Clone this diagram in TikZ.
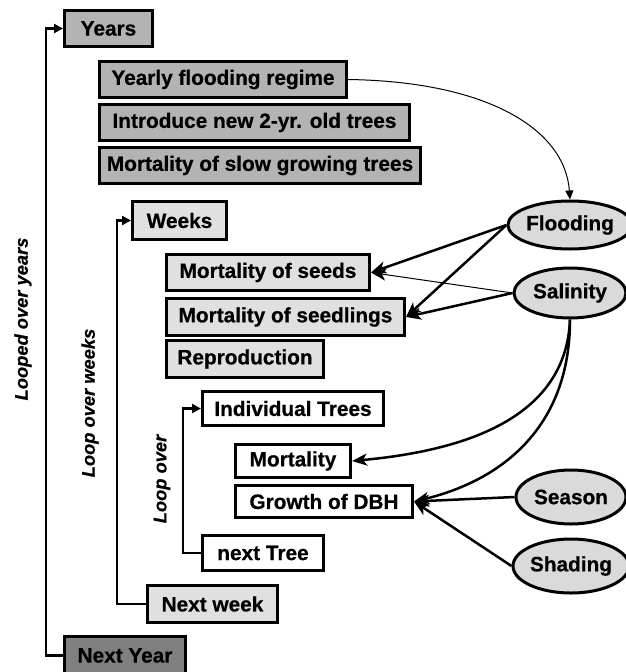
\documentclass[tikz,border=0pt]{standalone}
\usepackage{fontspec}
\setmainfont{Liberation Sans}[BoldFeatures={FakeBold=0.6},BoldItalicFeatures={FakeBold=0.6}]
\usetikzlibrary{arrows.meta,shapes.geometric}
\definecolor{gdark}{RGB}{128,128,128}
\definecolor{gmid}{RGB}{179,179,179}
\definecolor{glight}{RGB}{224,224,224}
\definecolor{gell}{RGB}{218,218,218}
\begin{document}
\begin{tikzpicture}[x=1pt,y=-1pt,
  box/.style={draw=black,line width=3pt,anchor=north west,inner sep=0pt,
    font=\fontsize{20.8}{24}\selectfont\bfseries,align=center},
  yearbox/.style={box,fill=gmid},
  weekbox/.style={box,fill=glight},
  treebox/.style={box,fill=white},
  factor/.style={ellipse,draw=black,line width=3pt,fill=gell,inner sep=0pt,
    font=\fontsize{20.8}{24}\selectfont\bfseries},
  looplabel/.style={rotate=90,font=\fontsize{18.3}{22}\selectfont\bfseries\itshape},
  loopline/.style={line width=2.5pt,-{Triangle[length=9pt,width=9pt]}},
  thickarrow/.style={line width=2.5pt,-{Stealth[length=15pt,width=12pt,inset=4pt]}},
  thinarrow/.style={line width=1pt,-{Stealth[length=15pt,width=12pt,inset=4pt]}},
  smallarrow/.style={line width=1pt,-{Triangle[length=9pt,width=8pt]}}
]
\useasboundingbox (0,0) rectangle (626,672);

% year level
\node[yearbox,minimum width=88,minimum height=36] (years) at (63,9) {Years};
\node[yearbox,minimum width=247,minimum height=36] (yfr) at (98,60) {Yearly flooding regime};
\node[yearbox,minimum width=310,minimum height=36] (intro) at (98,103) {Introduce new 2-yr. old trees};
\node[yearbox,minimum width=321,minimum height=36] (mslow) at (98,146) {Mortality of slow growing trees};
\node[box,fill=gdark,minimum width=121,minimum height=38] (nextyear) at (63,635) {Next Year};

% week level
\node[weekbox,minimum width=94,minimum height=38] (weeks) at (131,200) {Weeks};
\node[weekbox,minimum width=203,minimum height=36] (mseeds) at (165,253) {Mortality of seeds};
\node[weekbox,minimum width=238,minimum height=37] (mseedl) at (165,297) {Mortality of seedlings};
\node[weekbox,minimum width=157,minimum height=37] (repro) at (165,339) {Reproduction};
\node[weekbox,minimum width=130,minimum height=37] (nextweek) at (146,584) {Next week};

% tree level
\node[treebox,minimum width=181,minimum height=34] (indiv) at (201,390) {Individual Trees};
\node[treebox,minimum width=115,minimum height=33] (mort) at (234,443) {Mortality};
\node[treebox,minimum width=177,minimum height=32] (growth) at (234,484) {Growth of DBH};
\node[treebox,minimum width=121,minimum height=35] (nexttree) at (201,534) {next Tree};

% factors
\node[factor,minimum width=110,minimum height=48] (flood) at (570,225) {Flooding};
\node[factor,minimum width=112,minimum height=50] (sal) at (570,293) {Salinity};
\node[factor,minimum width=110,minimum height=54] (season) at (571,497) {Season};
\node[factor,minimum width=110,minimum height=54] (shade) at (571,566) {Shading};

% loop labels
\node[looplabel] (lyears) at (23,319) {Looped over years};
\node[looplabel] (lweeks) at (90,403) {Loop over weeks};
\node[looplabel] (ltrees) at (162,479) {Loop over};

% loop lines
\coordinate (xy) at (46,0);
\coordinate (xw) at (117,0);
\coordinate (xt) at (183,0);
\draw[loopline] (nextyear.west) -- (nextyear.west -| xy) |- (years.west);
\draw[loopline] (nextweek.west) -- (nextweek.west -| xw) |- (weeks.west);
\draw[loopline] (nexttree.west) -- (nexttree.west -| xt) |- (indiv.west);

% influences
\draw[smallarrow] (yfr.east) .. controls +(140,2) and +(-5,-70) .. (flood.north);
\draw[thinarrow] (sal.west) -- (mseeds.east);
\draw[thickarrow] (flood.west) -- (mseeds.east);
\draw[thickarrow] (flood.west) -- (mseedl.east);
\draw[thickarrow] (sal.west) -- (mseedl.east);
\draw[thickarrow] (sal.south) .. controls +(-4,101) and +(108,-10) .. (mort.east);
\draw[thickarrow] (sal.south) .. controls +(0,111) and +(84,-20) .. (growth.east);
\draw[thickarrow] (season.west) -- (growth.east);
\draw[thickarrow] (shade.west) -- (growth.east);
\end{tikzpicture}
\end{document}
